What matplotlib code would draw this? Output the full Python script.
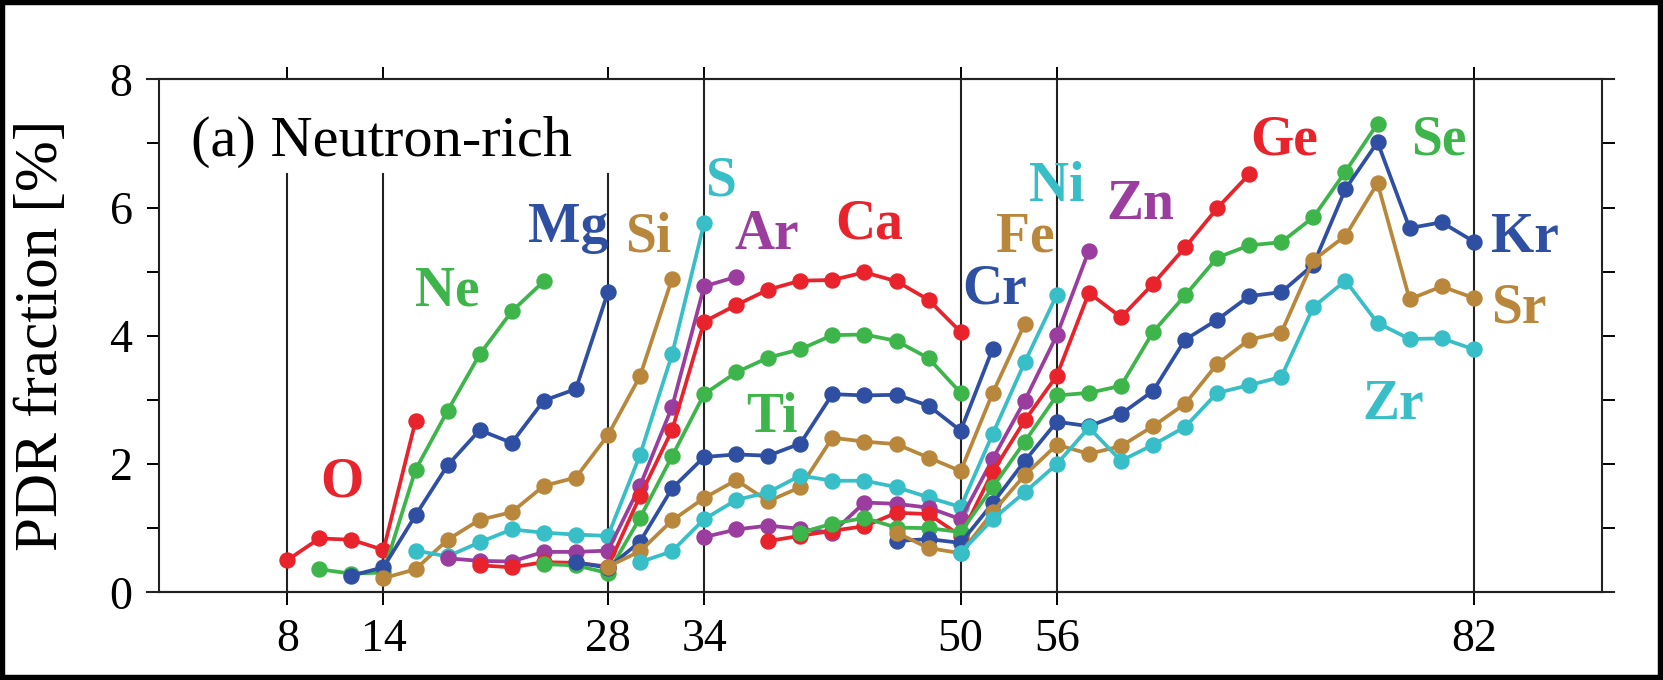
import numpy as np
import matplotlib.pyplot as plt
from matplotlib.patches import Rectangle

plt.rcParams['font.family'] = ['Liberation Serif', 'DejaVu Serif']

# PDR fraction [%] along each isotopic chain (even N, step 2 from first_n)
elements = ['O', 'Ne', 'Mg', 'Si', 'S', 'Ar', 'Ca', 'Ti', 'Cr',
            'Fe', 'Ni', 'Zn', 'Ge', 'Se', 'Kr', 'Sr', 'Zr']
first_n = [8, 10, 12, 14, 16, 18, 20, 24, 26, 28, 30, 34, 38, 40, 46, 46, 50]

pdr_O = [0.50, 0.84, 0.82, 0.66, 2.67]
pdr_Ne = [0.36, 0.29, 0.31, 1.91, 2.83, 3.71, 4.38, 4.85]
pdr_Mg = [0.26, 0.39, 1.20, 1.98, 2.53, 2.33, 2.99, 3.17, 4.68]
pdr_Si = [0.22, 0.36, 0.82, 1.13, 1.25, 1.66, 1.79, 2.45, 3.37, 4.89]
pdr_S = [0.65, 0.56, 0.78, 0.98, 0.93, 0.90, 0.88, 2.14, 3.71, 5.76]
pdr_Ar = [0.53, 0.49, 0.48, 0.63, 0.63, 0.65, 1.66, 2.89, 4.77, 4.92]
pdr_Ca = [0.42, 0.39, 0.47, 0.46, 0.40, 1.50, 2.53, 4.22, 4.48, 4.72,
          4.86, 4.87, 4.99, 4.85, 4.56, 4.06]
pdr_Ti = [0.44, 0.42, 0.30, 1.16, 2.12, 3.09, 3.43, 3.66, 3.79, 4.01,
          4.02, 3.92, 3.65, 3.11]
pdr_Cr = [0.47, 0.38, 0.79, 1.62, 2.11, 2.15, 2.13, 2.32, 3.09, 3.07,
          3.08, 2.91, 2.52, 3.80]
pdr_Fe = [0.40, 0.64, 1.12, 1.47, 1.75, 1.42, 1.64, 2.41, 2.35, 2.31,
          2.10, 1.89, 3.11, 4.19]
pdr_Ni = [0.47, 0.64, 1.14, 1.44, 1.56, 1.82, 1.74, 1.74, 1.64, 1.48,
          1.33, 2.47, 3.59, 4.64]
pdr_Zn = [0.86, 0.98, 1.04, 0.99, 0.93, 1.40, 1.38, 1.32, 1.14, 2.08,
          2.99, 4.01, 5.33]
pdr_Ge = [0.80, 0.88, 0.96, 1.03, 1.24, 1.22, 0.88, 1.88, 2.68, 3.38,
          4.67, 4.29, 4.81, 5.38, 5.99, 6.52]
pdr_Se = [0.93, 1.07, 1.16, 1.01, 1.00, 0.94, 1.64, 2.35, 3.07, 3.11,
          3.22, 4.06, 4.63, 5.22, 5.41, 5.46, 5.85, 6.56, 7.31]
pdr_Kr = [0.80, 0.83, 0.77, 1.39, 2.05, 2.66, 2.59, 2.78, 3.14, 3.94,
          4.25, 4.62, 4.68, 5.11, 6.29, 7.02, 5.68, 5.77, 5.47]
pdr_Sr = [0.93, 0.69, 0.61, 1.25, 1.83, 2.30, 2.16, 2.28, 2.59, 2.94,
          3.56, 3.94, 4.05, 5.18, 5.56, 6.38, 4.57, 4.77, 4.59]
pdr_Zr = [0.62, 1.14, 1.56, 2.00, 2.57, 2.05, 2.30, 2.58, 3.11, 3.23,
          3.36, 4.45, 4.86, 4.20, 3.95, 3.96, 3.79]

pdr = [pdr_O, pdr_Ne, pdr_Mg, pdr_Si, pdr_S, pdr_Ar, pdr_Ca, pdr_Ti, pdr_Cr,
       pdr_Fe, pdr_Ni, pdr_Zn, pdr_Ge, pdr_Se, pdr_Kr, pdr_Sr, pdr_Zr]

# where the element names go (N, PDR at baseline)
label_n = [11.4, 18.0, 25.5, 30.5, 35.0, 37.9, 44.3, 38.2, 52.1,
           54.0, 56.0, 61.2, 70.2, 79.8, 83.1, 83.1, 77.0]
label_y = [1.49, 4.48, 5.47, 5.31, 6.19, 5.36, 5.52, 2.50, 4.50,
           5.32, 6.10, 5.82, 6.83, 6.83, 5.31, 4.21, 2.71]

magic = [8, 14, 28, 34, 50, 56, 82]
magic_under_title = [8, 14, 28]

palette = ['#e8232b', '#3db54b', '#2f4fa2', '#b9873b', '#37bec7', '#9a3d9e']

fig = plt.figure(figsize=(16.63, 6.8), dpi=100)
ax = fig.add_axes([159 / 1663, 1 - 592.3 / 680, 1443 / 1663, 513 / 680])

for n in magic:
    top = 6.52 if n in magic_under_title else 8
    ax.plot([n, n], [0, top], color='#222222', lw=1.5, zorder=1)

for i, (name, n0, vals) in enumerate(zip(elements, first_n, pdr)):
    c = palette[i % 6]
    nn = np.arange(n0, n0 + 2 * len(vals), 2)
    ax.plot(nn, vals, '-o', color=c, lw=2.7, ms=10.8, zorder=3 + i * 0.01)
    ha = 'left' if name in ('Kr', 'Sr') else 'center'
    ax.text(label_n[i], label_y[i], name, color=c, fontsize=40,
            fontweight='bold', ha=ha, va='baseline', zorder=5)

ax.text(2.0, 6.8, '(a) Neutron-rich', fontsize=42, ha='left',
        va='baseline', zorder=6)

ax.set_xlim(0, 90)
ax.set_ylim(0, 8)
ax.set_xticks(magic)
ax.set_yticks(range(0, 9, 2))
ax.set_yticks(range(0, 9), minor=True)
ax.tick_params(axis='both', which='both', direction='out', length=9,
               width=1.4, labelsize=33, pad=10)
ax.tick_params(top=True, right=True, labeltop=False, labelright=False)
ax.tick_params(axis='y', which='minor', right=True, left=True)
for s in ax.spines.values():
    s.set_linewidth(1.5)
    s.set_color('#222222')

# top and bottom frame lines run out past the corners
ext = 12 / 1443
for yy in (0, 1):
    ax.plot([-ext, 1 + ext], [yy, yy], transform=ax.transAxes, color='#222222',
            lw=1.5, clip_on=False, zorder=4)

ax.set_ylabel('PDR fraction [%]', fontsize=44)
ax.yaxis.set_label_coords(-0.062, 0.5)

fig.patches.append(Rectangle((0, 0), 1, 1, transform=fig.transFigure,
                             fill=False, edgecolor='black', lw=7.5))

fig.savefig('out.png', dpi=100, facecolor='white')
